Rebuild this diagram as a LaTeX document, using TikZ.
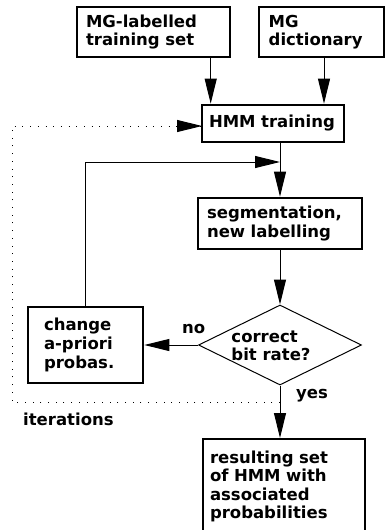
\documentclass[tikz,border=0pt]{standalone}
\usepackage{fontspec}
\setmainfont{DejaVu Sans}
\usetikzlibrary{arrows.meta,shapes.geometric}
\begin{document}
\begin{tikzpicture}[x=1pt,y=-1pt,
  every node/.style={font=\fontsize{16.5}{18.6}\selectfont\bfseries},
  box/.style={draw,rectangle,align=left,inner ysep=0pt},
  thinbox/.style={box,line width=1.3pt},
  thickbox/.style={box,line width=2.7pt},
  conn/.style={line width=1pt,-{Triangle[length=25pt,width=12pt]}},
  dotline/.style={line width=1pt,dash pattern=on 1pt off 6.7pt},
  lbl/.style={inner sep=0pt,anchor=base west}]
\useasboundingbox (0,0) rectangle (385,530);
\clip (0,0) rectangle (385,530);

\node[thinbox,minimum width=153,minimum height=50,text width=135,inner xsep=9] (b1) at (153.5,32) {MG-labelled\\training set};
\node[thinbox,minimum width=125,minimum height=50,text width=105.6,inner xsep=9.7] (b2) at (321.5,32) {MG\\dictionary};
\node[thickbox,minimum width=142,minimum height=37,text width=128,inner xsep=7] (hmm) at (273,123.5) {HMM training};
\node[thickbox,minimum width=164,minimum height=51,text width=146,inner xsep=9] (seg) at (280,223.5) {segmentation,\\new labelling};
\node[draw,diamond,line width=1pt,minimum width=163,minimum height=80,inner sep=0pt] (dia) at (280,345) {};
\node[align=left,inner sep=0pt] (dtxt) at (271,346) {correct\\bit rate?};
\node[thickbox,minimum width=115,minimum height=76,text width=83,inner xsep=16] (chg) at (85.5,345) {change\\a-priori\\probas.};
\node[box,line width=1.8pt,anchor=north,minimum width=162,minimum height=95,text width=148,inner xsep=7] (res) at (284,438) {resulting set\\of HMM with\\associated\\probabilities};

\node[lbl] (no) at (182,333) {no};
\node[lbl] (yes) at (296,398) {yes};
\node[lbl] (iter) at (23,425) {iterations};

\coordinate (xa) at (210.7,0);
\coordinate (xb) at (324,0);
\coordinate (j) at (280,162);
\coordinate (d1) at (280,402);
\coordinate (d2) at (12,402);
\coordinate (d3) at (12,126);
\coordinate (d4) at (202,126);

\draw[conn] (b1.south -| xa) -- (hmm.north -| xa);
\draw[conn] (b2.south -| xb) -- (hmm.north -| xb);
\draw[line width=1pt] (hmm.south -| seg.north) -- (j);
\draw[conn] (j) -- (seg.north);
\draw[conn] (chg.north) |- (j);
\draw[conn] (seg.south) -- (dia.north);
\draw[conn] (dia.west) -- (chg.east);
\draw[conn] (dia.south) -- (res.north -| dia.south);
\draw[dotline] (d1) -- (d2) -- (d3) -- (d4);
\draw[line width=1pt,-{Triangle[length=25pt,width=12pt]}] ([xshift=-25pt]d4) -- (d4);
\end{tikzpicture}
\end{document}
